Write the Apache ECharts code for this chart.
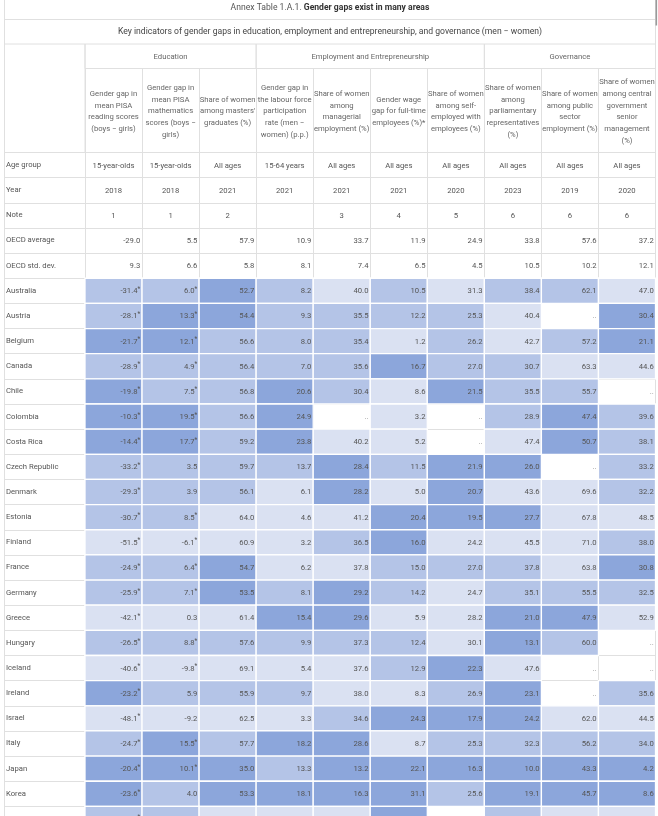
<!DOCTYPE html>
<html><head><meta charset="utf-8">
<script src="https://cdn.jsdelivr.net/npm/echarts@6/dist/echarts.min.js"></script>
<style>html,body{margin:0;padding:0;background:#fff;overflow:hidden}#c{width:658px;height:816px}</style>
</head><body><div id="c"></div>
<script>
const FONT = 'Roboto, "Noto Sans", sans-serif';
const titlePlain = 'Annex Table 1.A.1. ';
const titleBold = 'Gender gaps exist in many areas';
const subtitle = 'Key indicators of gender gaps in education, employment and entrepreneurship, and governance (men \u2212 women)';
const groups = ['Education', 'Employment and Entrepreneurship', 'Governance'];
const groupSpans = [3, 4, 3];
const colHeaders = [
  'Gender gap in\nmean PISA\nreading scores\n(boys \u2212 girls)',
  'Gender gap in\nmean PISA\nmathematics\nscores (boys \u2212\ngirls)',
  "Share of women\namong masters'\ngraduates (%)",
  'Gender gap in\nthe labour force\nparticipation\nrate (men \u2212\nwomen) (p.p.)',
  'Share of women\namong\nmanagerial\nemployment (%)',
  'Gender wage\ngap for full-time\nemployees (%)*',
  'Share of women\namong self-\nemployed with\nemployees (%)',
  'Share of women\namong\nparliamentary\nrepresentatives\n(%)',
  'Share of women\namong public\nsector\nemployment (%)',
  'Share of women\namong central\ngovernment\nsenior\nmanagement\n(%)'
];
const metaLabels = ['Age group', 'Year', 'Note', 'OECD average', 'OECD std. dev.'];
const ageGroup = ['15-year-olds', '15-year-olds', 'All ages', '15-64 years', 'All ages', 'All ages', 'All ages', 'All ages', 'All ages', 'All ages'];
const years = ['2018', '2018', '2021', '2021', '2021', '2021', '2020', '2023', '2019', '2020'];
const notes = ['1', '1', '2', '', '3', '4', '5', '6', '6', '6'];
const oecdAvg = [-29.0, 5.5, 57.9, 10.9, 33.7, 11.9, 24.9, 33.8, 57.6, 37.2];
const oecdStd = [9.3, 6.6, 5.8, 8.1, 7.4, 6.5, 4.5, 10.5, 10.2, 12.1];
const countries = ['Australia', 'Austria', 'Belgium', 'Canada', 'Chile', 'Colombia', 'Costa Rica', 'Czech Republic', 'Denmark', 'Estonia', 'Finland', 'France', 'Germany', 'Greece', 'Hungary', 'Iceland', 'Ireland', 'Israel', 'Italy', 'Japan', 'Korea', 'Latvia'];
const values = [
  [-31.4, 6.0, 52.7, 8.2, 40.0, 10.5, 31.3, 38.4, 62.1, 47.0],
  [-28.1, 13.3, 54.4, 9.3, 35.5, 12.2, 25.3, 40.4, null, 30.4],
  [-21.7, 12.1, 56.6, 8.0, 35.4, 1.2, 26.2, 42.7, 57.2, 21.1],
  [-28.9, 4.9, 56.4, 7.0, 35.6, 16.7, 27.0, 30.7, 63.3, 44.6],
  [-19.8, 7.5, 56.8, 20.6, 30.4, 8.6, 21.5, 35.5, 55.7, null],
  [-10.3, 19.5, 56.6, 24.9, null, 3.2, null, 28.9, 47.4, 39.6],
  [-14.4, 17.7, 59.2, 23.8, 40.2, 5.2, null, 47.4, 50.7, 38.1],
  [-33.2, 3.5, 59.7, 13.7, 28.4, 11.5, 21.9, 26.0, null, 33.2],
  [-29.3, 3.9, 56.1, 6.1, 28.2, 5.0, 20.7, 43.6, 69.6, 32.2],
  [-30.7, 8.5, 64.0, 4.6, 41.2, 20.4, 19.5, 27.7, 67.8, 48.5],
  [-51.5, -6.1, 60.9, 3.2, 36.5, 16.0, 24.2, 45.5, 71.0, 38.0],
  [-24.9, 6.4, 54.7, 6.2, 37.8, 15.0, 27.0, 37.8, 63.8, 30.8],
  [-25.9, 7.1, 53.5, 8.1, 29.2, 14.2, 24.7, 35.1, 55.5, 32.5],
  [-42.1, 0.3, 61.4, 15.4, 29.6, 5.9, 28.2, 21.0, 47.9, 52.9],
  [-26.5, 8.8, 57.6, 9.9, 37.3, 12.4, 30.1, 13.1, 60.0, null],
  [-40.6, -9.8, 69.1, 5.4, 37.6, 12.9, 22.3, 47.6, null, null],
  [-23.2, 5.9, 55.9, 9.7, 38.0, 8.3, 26.9, 23.1, null, 35.6],
  [-48.1, -9.2, 62.5, 3.3, 34.6, 24.3, 17.9, 24.2, 62.0, 44.5],
  [-24.7, 15.5, 57.7, 18.2, 28.6, 8.7, 25.3, 32.3, 56.2, 34.0],
  [-20.4, 10.1, 35.0, 13.3, 13.2, 22.1, 16.3, 10.0, 43.3, 4.2],
  [-23.6, 4.0, 53.3, 18.1, 16.3, 31.1, 25.6, 19.1, 45.7, 8.6],
  [-39.6, 3.1, 65.0, 4.2, 45.0, 21.7, null, 30.0, 63.4, 54.0]
];
const stars = [
  [1,1],[1,1],[1,1],[1,1],[1,1],[1,1],[1,1],[1,0],[1,0],[1,1],[1,1],
  [1,1],[1,1],[1,0],[1,1],[1,1],[1,0],[1,0],[1,1],[1,1],[1,0],[1,0]
];
const tiers = [
  [2,2,3,2,1,2,1,2,2,1],
  [2,3,3,2,2,2,2,1,0,3],
  [3,3,2,2,2,1,2,1,2,3],
  [2,2,2,2,2,3,2,2,1,1],
  [3,2,2,3,2,1,3,2,2,0],
  [3,3,2,3,0,1,0,2,3,2],
  [3,3,2,3,1,1,0,1,3,2],
  [2,2,2,2,3,2,3,3,0,2],
  [2,2,2,1,3,1,3,1,1,2],
  [2,2,1,1,1,3,3,3,1,1],
  [1,1,1,1,2,3,1,1,1,2],
  [2,2,3,1,1,2,2,2,1,3],
  [2,2,3,2,3,2,1,2,2,2],
  [1,1,1,3,3,1,1,3,3,1],
  [2,2,2,2,2,2,1,3,2,0],
  [1,1,1,1,1,2,3,1,0,0],
  [3,2,2,2,1,1,2,3,0,2],
  [1,1,1,1,2,3,3,3,1,1],
  [2,3,2,3,3,1,2,2,2,2],
  [3,3,3,2,3,3,3,3,3,3],
  [3,2,3,3,3,3,2,3,3,3],
  [2,2,1,1,1,3,0,2,1,1]
];

// ---- layout / style ----
const tierColors = ['#ffffff', '#dae1f2', '#b4c4e7', '#8ca6db'];
const lineColor = '#e0e0e0';
const textColor = '#555';
const fs = 7.7;
const W = 658, H = 816;
const leftEdge = 4.5, rightEdge = 655.5;
const gridLeft = 85, gridTop = 152.5, rowH = 25.15;
const colHeaderH = 84, groupH = 24.5, subH = 24.5, titleH = 19.5;

const rowLabels = metaLabels.concat(countries);
const cols = colHeaders.map((_, i) => String(i));

const cells = [];
for (let c = 0; c < 10; c++) {
  cells.push({c, r: 0, tier: 0, text: ageGroup[c], align: 'center'});
  cells.push({c, r: 1, tier: 0, text: years[c], align: 'center'});
  cells.push({c, r: 2, tier: 0, text: notes[c], align: 'center'});
  cells.push({c, r: 3, tier: 0, text: oecdAvg[c].toFixed(1), align: 'right'});
  cells.push({c, r: 4, tier: 0, text: oecdStd[c].toFixed(1), align: 'right'});
}
countries.forEach((name, i) => {
  for (let c = 0; c < 10; c++) {
    const v = values[i][c];
    const star = c < 2 && stars[i][c] === 1 && v !== null;
    cells.push({c, r: 5 + i, tier: tiers[i][c], text: v === null ? '..' : v.toFixed(1), align: 'right', star, missing: v === null});
  }
});

const chart = echarts.init(document.getElementById('c'), null, {renderer: 'canvas'});

function renderItem(params, api) {
  const d = cells[params.dataIndex];
  const p = api.coord([d.c, d.r]);
  const s = api.size([1, 1]);
  const x0 = p[0] - s[0] / 2, y0 = p[1] - s[1] / 2;
  const children = [];
  if (d.tier) {
    children.push({type: 'rect', shape: {x: x0, y: y0, width: s[0], height: s[1]},
      style: {fill: tierColors[d.tier], stroke: '#ffffff', lineWidth: 1.3}});
  }
  if (d.text !== '') {
    const tx = d.align === 'center' ? p[0] : x0 + s[0] - 1.8;
    const style = {x: tx, y: p[1] + 0.5, align: d.align, verticalAlign: 'middle',
      fill: d.missing ? '#999' : textColor, fontFamily: FONT, fontSize: fs};
    if (d.star) {
      style.text = '{n|' + d.text + '}{s|*}';
      style.rich = {n: {fontSize: fs, fontFamily: FONT, fill: textColor, lineHeight: 10},
                    s: {fontSize: 6.3, fontFamily: FONT, fill: textColor, verticalAlign: 'top', lineHeight: 10}};
    } else {
      style.text = d.text;
    }
    children.push({type: 'text', style});
  }
  return {type: 'group', children};
}

const gridW = rightEdge - gridLeft;
const colW = gridW / 10;

const option = {
  backgroundColor: '#fff',
  animation: false,
  textStyle: {fontFamily: FONT},
  grid: {left: gridLeft, top: gridTop, width: gridW, height: rowH * rowLabels.length, containLabel: false, outerBoundsMode: 'none'},
  xAxis: {
    type: 'category', data: cols, position: 'top',
    axisLine: {show: true, lineStyle: {color: lineColor, width: 1}},
    axisTick: {show: true, interval: 0, length: colHeaderH, lineStyle: {color: lineColor}},
    axisLabel: {interval: 0, margin: 41, color: '#666', fontSize: fs, fontFamily: FONT, lineHeight: 11.7,
      verticalAlign: 'middle', align: 'center', formatter: (v, i) => colHeaders[i]},
    splitLine: {show: true, interval: 0, lineStyle: {color: lineColor}}
  },
  yAxis: {
    type: 'category', data: rowLabels, inverse: true,
    axisLine: {show: true, lineStyle: {color: lineColor}},
    axisTick: {show: true, interval: 0, length: gridLeft - leftEdge, lineStyle: {color: lineColor}},
    axisLabel: {interval: 0, margin: gridLeft - 6, align: 'left', color: textColor, fontSize: fs, fontFamily: FONT},
    splitLine: {show: true, interval: 0, lineStyle: {color: lineColor}}
  },
  series: [{
    type: 'custom', renderItem, coordinateSystem: 'cartesian2d',
    encode: {x: 0, y: 1},
    data: cells.map(d => [d.c, d.r]),
    clip: false, silent: true
  }]
};
chart.setOption(option);

// ---- header decorations derived from the grid ----
const yColTop = gridTop - colHeaderH;
const yGroupTop = yColTop - groupH;
const ySubTop = yGroupTop - subH;
const boundary = i => chart.convertToPixel({xAxisIndex: 0}, String(Math.min(i, 9))) + (i > 9 ? colW / 2 : -colW / 2);
const g = [];
const hline = (x1, x2, y) => g.push({type: 'line', shape: {x1, y1: y, x2, y2: y}, style: {stroke: lineColor, lineWidth: 1}, silent: true});
const vline = (x, y1, y2) => g.push({type: 'line', shape: {x1: x, y1, x2: x, y2}, style: {stroke: lineColor, lineWidth: 1}, silent: true});

hline(leftEdge, rightEdge, ySubTop);
hline(leftEdge, rightEdge, yGroupTop);
hline(gridLeft, rightEdge, yColTop);
vline(leftEdge, 0, H);
vline(rightEdge, 0, gridTop);
vline(gridLeft, yGroupTop, gridTop);
let acc = 0;
groups.forEach((name, gi) => {
  const xa = boundary(acc), xb = boundary(acc + groupSpans[gi]);
  vline(xa, yGroupTop, yColTop);
  vline(xb, yGroupTop, yColTop);
  g.push({type: 'text', style: {text: name, x: (xa + xb) / 2, y: (yGroupTop + yColTop) / 2 + 0.5, align: 'center', verticalAlign: 'middle',
    fill: '#666', fontSize: fs, fontFamily: FONT}, silent: true});
  acc += groupSpans[gi];
});
const midX = (leftEdge + rightEdge) / 2;
g.push({type: 'text', style: {text: '{a|' + titlePlain + '}{b|' + titleBold + '}', x: midX, y: 7.5, align: 'center', verticalAlign: 'middle',
  rich: {a: {fontSize: 8.6, fontFamily: FONT, fill: '#555'}, b: {fontSize: 8.6, fontFamily: FONT, fontWeight: 'bold', fill: '#333'}}}, silent: true});
g.push({type: 'text', style: {text: subtitle, x: midX, y: (ySubTop + yGroupTop) / 2, align: 'center', verticalAlign: 'middle',
  fill: '#444', fontSize: 8.6, fontFamily: FONT}, silent: true});
g.push({type: 'rect', shape: {x: rightEdge, y: 0, width: 1.6, height: titleH + 6}, style: {fill: '#9a9a9a'}, silent: true});

chart.setOption({graphic: {elements: g}});
</script>
</body></html>
